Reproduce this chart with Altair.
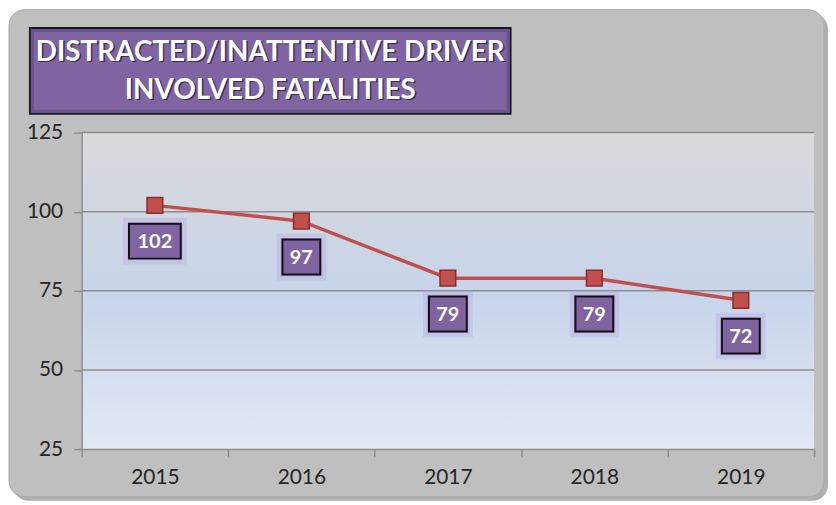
import altair as alt
import pandas as pd

years = ["2015", "2016", "2017", "2018", "2019"]
fatalities = [102, 97, 79, 79, 72]
y_ticks = [25, 50, 75, 100, 125]
title_lines = ["DISTRACTED/INATTENTIVE DRIVER", "INVOLVED FATALITIES"]

df = pd.DataFrame({"year": years, "value": fatalities})
grid_df = pd.DataFrame({"value": [v for v in y_ticks if v > 25]})
one = df.head(1)

W, H = 736, 318
FONT = "Lato"

x_enc = alt.X(
    "year:N",
    title=None,
    sort=years,
    scale=alt.Scale(type="band", paddingInner=0, paddingOuter=0),
    axis=alt.Axis(
        tickBand="extent", labelAngle=0, domainColor="#8c8c8c", domainWidth=1.5,
        tickColor="#8c8c8c", tickWidth=1.5, tickSize=8, labelFont=FONT,
        labelFontSize=21, labelColor="#262626", labelPadding=10, grid=False, zindex=1,
    ),
)
y_scale = alt.Scale(domain=[25, 125], nice=False, zero=False)
y_enc = alt.Y(
    "value:Q",
    title=None,
    scale=y_scale,
    axis=alt.Axis(
        values=y_ticks, domainColor="#8c8c8c", domainWidth=1.5, tickColor="#8c8c8c",
        tickWidth=1.5, tickSize=8, labelFont=FONT, labelFontSize=21,
        labelColor="#262626", labelPadding=11, grid=False, zindex=1,
    ),
)

grad = alt.LinearGradient(
    gradient="linear", x1=0, x2=0, y1=0, y2=1,
    stops=[
        alt.GradientStop(color="#dadada", offset=0),
        alt.GradientStop(color="#c7d4ea", offset=0.5),
        alt.GradientStop(color="#e2e8f4", offset=1),
    ],
)

# outer rounded panel with shadow
shadow = alt.Chart(one).mark_rect(fill="#6e6e6e", opacity=0.55, cornerRadius=16).encode(
    x=alt.value(-69), x2=alt.value(750), y=alt.value(-120), y2=alt.value(370)
)
panel = alt.Chart(one).mark_rect(fill="#bfbfbf", stroke="#a8a8a8", strokeWidth=1,
                                 cornerRadius=16).encode(
    x=alt.value(-73), x2=alt.value(746), y=alt.value(-123.5), y2=alt.value(366)
)

bg = alt.Chart(one).mark_rect(color=grad).encode(
    x=alt.value(0), x2=alt.value(W), y=alt.value(0), y2=alt.value(H)
)
grid = alt.Chart(grid_df).mark_rule(color="#8c8c8c", strokeWidth=1.5).encode(y=y_enc)

base = alt.Chart(df).encode(x=x_enc, y=y_enc)

line = base.mark_line(color="#c0504d", strokeWidth=3.5)
pts = base.mark_point(shape="square", filled=True, size=250, color="#c0504d",
                      stroke="#8c2d2b", strokeWidth=1.5, opacity=1)

wide = "M-1,-0.673H1V0.673H-1Z"
narrow = "M-1,-0.921H1V0.921H-1Z"
glow_wide = "M-1,-0.734H1V0.734H-1Z"
glow_narrow = "M-1,-0.94H1V0.94H-1Z"

big = base.transform_filter("datum.value >= 100")
small = base.transform_filter("datum.value < 100")

layers = []
for b, gshape, gsize, shape, size in [
    (big, glow_wide, 4096, wide, 2704),
    (small, glow_narrow, 2500, narrow, 1444),
]:
    layers.append(b.mark_point(shape=gshape, size=gsize, filled=True, color="#b7a3e3",
                               opacity=0.35, yOffset=36))
    layers.append(b.mark_point(shape=shape, size=size + 300, filled=True, color="#a58fd6",
                               opacity=0.5, yOffset=36))
    layers.append(b.mark_point(shape=shape, size=size, filled=True, color="#8064a2",
                               stroke="#111111", strokeWidth=2, opacity=1, yOffset=36))

labels = base.mark_text(font=FONT, fontSize=20, fontWeight="bold", color="white",
                        baseline="middle", yOffset=37).encode(text="value:Q")

title_box = alt.Chart(one).mark_rect(fill="#8064a2", stroke="#1a1a1a", strokeWidth=2).encode(
    x=alt.value(-52), x2=alt.value(431), y=alt.value(-105), y2=alt.value(-19)
)
title_inner = alt.Chart(one).mark_rect(fill="transparent", stroke="#6a5390", strokeWidth=3).encode(
    x=alt.value(-49.5), x2=alt.value(428.5), y=alt.value(-102.5), y2=alt.value(-21.5)
)
title_layers = [title_box, title_inner]
for i, t in enumerate(title_lines):
    yv = -80 + i * 38
    title_layers.append(
        alt.Chart(one).mark_text(font=FONT, fontSize=28, fontWeight="bold", color="#2b1f40",
                                 opacity=0.8, align="center", baseline="middle", text=t)
        .encode(x=alt.value(191), y=alt.value(yv + 1.5))
    )
    title_layers.append(
        alt.Chart(one).mark_text(font=FONT, fontSize=28, fontWeight="bold", color="white",
                                 align="center", baseline="middle", text=t)
        .encode(x=alt.value(189.5), y=alt.value(yv))
    )

chart = alt.layer(
    shadow, panel, bg, grid, line, pts, *layers, labels, *title_layers
).properties(
    width=W, height=H,
    autosize=alt.AutoSizeParams(type="none"),
    padding={"left": 74, "top": 124, "right": 14, "bottom": 52},
    background="white",
).configure_view(stroke="transparent")

chart.save("out.html", embed_options={"renderer": "svg", "actions": False})
